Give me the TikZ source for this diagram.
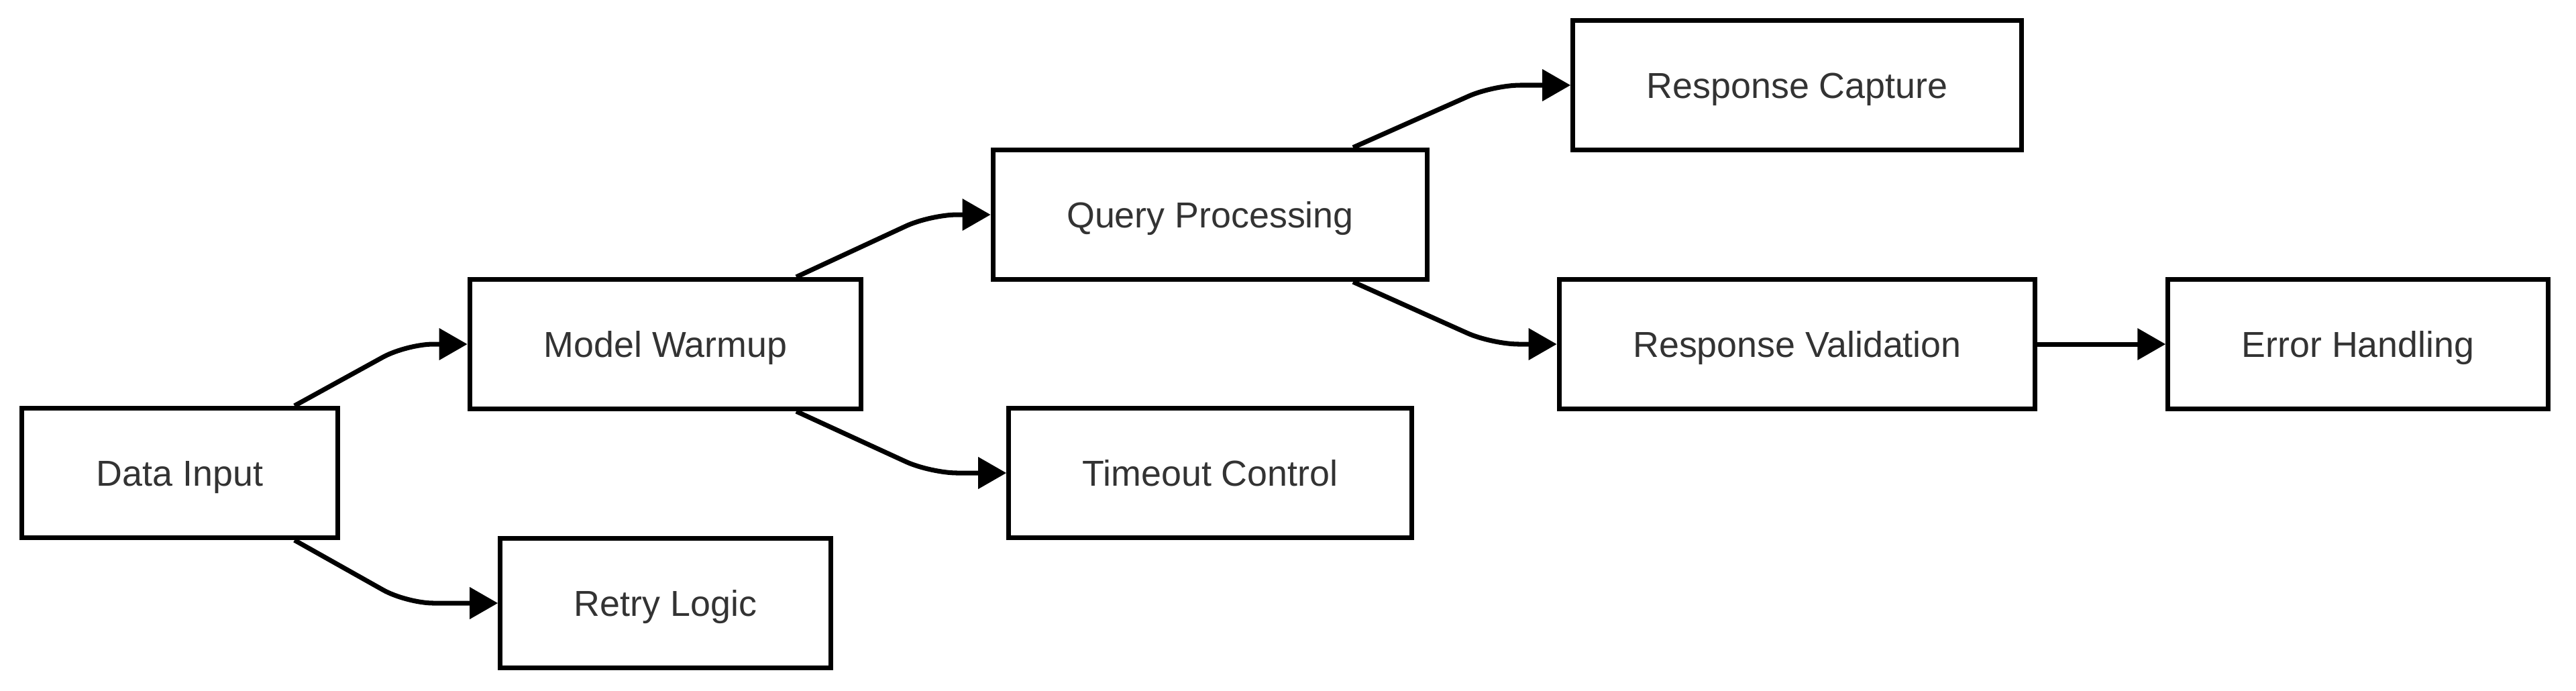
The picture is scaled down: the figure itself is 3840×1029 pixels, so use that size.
\documentclass[tikz,border=0pt]{standalone}
\usepackage{fontspec}
\setmainfont{Liberation Sans}
\usetikzlibrary{arrows.meta,calc}
\definecolor{txt}{HTML}{333333}
\begin{document}
\begin{tikzpicture}[x=0.01cm,y=-0.01cm,
  box/.style={draw=black,fill=white,line width=2.05pt,minimum height=1.93cm,
    inner sep=0pt,text height=0.38cm,text depth=0cm,text=txt,
    font=\fontsize{15.3pt}{18pt}\selectfont},
  conn/.style={draw=black,line width=2pt,rounded corners=0.4cm,
    -{Triangle[length=0.42cm,width=0.46cm]}}]
\useasboundingbox[fill=white] (0,0) rectangle (3840,1029);
\node[box,minimum width=4.71cm] (di) at (268,705) {Data Input};
\node[box,minimum width=5.83cm] (mw) at (992,513) {Model Warmup};
\node[box,minimum width=4.92cm] (rl) at (992,899) {Retry Logic};
\node[box,minimum width=6.47cm] (qp) at (1804,320) {Query Processing};
\node[box,minimum width=6.00cm] (tc) at (1804,705) {Timeout Control};
\node[box,minimum width=6.68cm] (rc) at (2679,127) {Response Capture};
\node[box,minimum width=7.09cm] (rv) at (2679,513) {Response Validation};
\node[box,minimum width=5.66cm] (eh) at (3515,513) {Error Handling};
\draw[conn] ($(di.north)+(171,0)$) -- (606,513) -- (mw.west);
\draw[conn] ($(di.south)+(171,0)$) -- (606,899) -- (rl.west);
\draw[conn] ($(mw.north)+(195,0)$) -- (1387,320) -- (qp.west);
\draw[conn] ($(mw.south)+(195,0)$) -- (1387,705) -- (tc.west);
\draw[conn] ($(qp.north)+(213,0)$) -- (2226,127) -- (rc.west);
\draw[conn] ($(qp.south)+(213,0)$) -- (2224,513) -- (rv.west);
\draw[conn] (rv.east) -- (eh.west);
\end{tikzpicture}
\end{document}
